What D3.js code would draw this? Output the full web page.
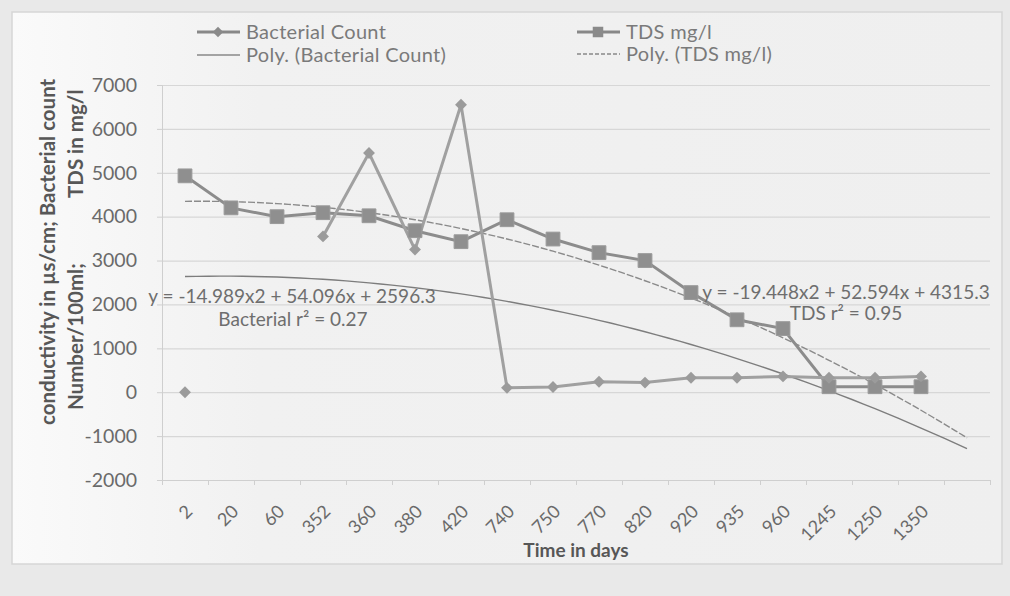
<!DOCTYPE html>
<html>
<head>
<meta charset="utf-8">
<script src="https://cdn.jsdelivr.net/npm/d3@7"></script>
<style>
  html, body { margin: 0; padding: 0; background: #e8e8e8; }
  svg { display: block; }
  text { font-family: Lato, "Open Sans", sans-serif; }
</style>
</head>
<body>
<svg id="chart" width="1010" height="596"></svg>
<script>
// Sampling days (category axis)
const days = ["2", "20", "60", "352", "360", "380", "420", "740", "750", "770",
              "820", "920", "935", "960", "1245", "1250", "1350"];
// Bacterial count, Number/100ml (no reading at day 20 and 60)
const bacterialCount = [0, null, null, 3550, 5450, 3250, 6550, 100, 120, 240,
                        220, 330, 330, 360, 330, 330, 360];
// Total dissolved solids, mg/l
const tdsMgL = [4930, 4200, 4000, 4090, 4020, 3680, 3430, 3930, 3490, 3180,
                3000, 2270, 1650, 1450, 125, 125, 125];
// 2nd-order polynomial trend coefficients [a, b, c] for y = a x^2 + b x + c
const bacterialPoly = [-14.989, 54.096, 2596.3];
const tdsPoly = [-19.448, 52.594, 4315.3];
const bacterialR2 = "0.27";
const tdsR2 = "0.95";
// Value axis ticks
const yTicks = [-2000, -1000, 0, 1000, 2000, 3000, 4000, 5000, 6000, 7000];

const svg = d3.select("#chart");
const W = 1010, H = 596;
const plot = { left: 162, right: 990, top: 85, bottom: 480 };
const forecastSlots = 1;           // trend lines run one period past the data
const nSlots = days.length + forecastSlots;

// soft page / chart area
const bg = svg.append("defs").append("linearGradient").attr("id", "paper")
  .attr("x1", 0).attr("x2", 1).attr("y1", 0).attr("y2", 0);
bg.append("stop").attr("offset", 0).attr("stop-color", "#fafafa");
bg.append("stop").attr("offset", 0.25).attr("stop-color", "#f1f1f1");
bg.append("stop").attr("offset", 1).attr("stop-color", "#efefef");
svg.append("rect").attr("width", W).attr("height", H).attr("fill", "#e9e9e9");
svg.append("rect").attr("x", 12).attr("y", 12).attr("width", 990).attr("height", 552)
  .attr("fill", "url(#paper)").attr("stroke", "#d6d6d6").attr("stroke-width", 1.5);

const x = d3.scaleBand().domain(d3.range(nSlots)).range([plot.left, plot.right]);
const cx = i => x(i) + x.bandwidth() / 2;
const xIdx = d3.scaleLinear().domain([1, nSlots]).range([cx(0), cx(nSlots - 1)]);
const y = d3.scaleLinear().domain([-2000, 7000]).range([plot.bottom, plot.top]);

// horizontal gridlines
svg.append("g")
  .attr("transform", `translate(${plot.left},0)`)
  .call(d3.axisLeft(y).tickValues(yTicks).tickSize(-(plot.right - plot.left)).tickFormat(""))
  .call(g => g.select(".domain").remove())
  .call(g => g.selectAll("line").attr("stroke", "#d7d7d7").attr("stroke-width", 1.2));

// y axis
svg.append("g")
  .attr("transform", `translate(${plot.left},0)`)
  .call(d3.axisLeft(y).tickValues(yTicks).tickSize(5).tickPadding(20).tickFormat(d => String(d)))
  .call(g => g.select(".domain").attr("stroke", "#cfcfcf"))
  .call(g => g.selectAll("line").attr("stroke", "#cfcfcf"))
  .call(g => g.selectAll("text").attr("fill", "#6a6a6a").style("font-size", "19.5px"));

// x axis line with tick marks between categories
const xEdges = d3.scaleLinear().domain([0, nSlots]).range([plot.left, plot.right]);
svg.append("g")
  .attr("transform", `translate(0,${plot.bottom})`)
  .call(d3.axisBottom(xEdges).ticks(nSlots).tickSize(5).tickFormat(""))
  .call(g => g.select(".domain").attr("stroke", "#cfcfcf"))
  .call(g => g.selectAll("line").attr("stroke", "#cfcfcf"));

// rotated category labels
svg.append("g")
  .attr("transform", `translate(0,${plot.bottom})`)
  .call(d3.axisBottom(x).tickSize(0).tickFormat(i => days[i] ?? ""))
  .call(g => g.select(".domain").remove())
  .call(g => g.selectAll("text")
    .attr("fill", "#6a6a6a")
    .style("font-size", "18px")
    .attr("text-anchor", "end")
    .attr("dy", "0.35em")
    .attr("transform", "translate(2,26) rotate(-45)"));

// axis titles
const title = svg.append("g").attr("fill", "#575757").attr("font-weight", "bold").style("font-size", "20.5px");
title.append("text").attr("transform", "translate(47,425) rotate(-90)")
  .attr("dominant-baseline", "central").text("conductivity in µs/cm;  Bacterial count");
title.append("text").attr("transform", "translate(75,410) rotate(-90)")
  .attr("dominant-baseline", "central").text("Number/100ml;");
title.append("text").attr("transform", "translate(75,198) rotate(-90)")
  .attr("dominant-baseline", "central").text("TDS in mg/l");
title.append("text").attr("x", (plot.left + plot.right) / 2).attr("y", 557)
  .attr("text-anchor", "middle").style("font-size", "19px").text("Time in days");

// polynomial trend lines
const poly = c => t => c[0] * t * t + c[1] * t + c[2];
const trendT = d3.range(1, nSlots + 0.001, 0.25);
const trendLine = f => d3.line().x(t => xIdx(t)).y(t => y(f(t)))(trendT);
svg.append("path").attr("d", trendLine(poly(bacterialPoly)))
  .attr("fill", "none").attr("stroke", "#7d7d7d").attr("stroke-width", 1.4);
svg.append("path").attr("d", trendLine(poly(tdsPoly)))
  .attr("fill", "none").attr("stroke", "#8a8a8a").attr("stroke-width", 1.4)
  .attr("stroke-dasharray", "7,2");

// data series
const seriesLine = d3.line().defined(d => d != null).x((d, i) => cx(i)).y(d => y(d));
svg.append("path").attr("d", seriesLine(tdsMgL))
  .attr("fill", "none").attr("stroke", "#8c8c8c").attr("stroke-width", 3);
svg.append("path").attr("d", seriesLine(bacterialCount))
  .attr("fill", "none").attr("stroke", "#a0a0a0").attr("stroke-width", 3);

const diamond = d3.symbol().type(d3.symbolDiamond2).size(90);
const square = d3.symbol().type(d3.symbolSquare).size(190);

svg.append("g").selectAll("path")
  .data(tdsMgL.map((v, i) => ({ v, i })))
  .join("path")
  .attr("d", square)
  .attr("transform", d => `translate(${cx(d.i)},${y(d.v)})`)
  .attr("fill", "#8f8f8f").attr("stroke", "#9a9a9a");

svg.append("g").selectAll("path")
  .data(bacterialCount.map((v, i) => ({ v, i })).filter(d => d.v != null))
  .join("path")
  .attr("d", diamond)
  .attr("transform", d => `translate(${cx(d.i)},${y(d.v)})`)
  .attr("fill", "#9b9b9b");

// trend equations
const eq = svg.append("g").attr("fill", "#6e6e6e").attr("text-anchor", "middle").style("font-size", "19px");
const fmtEq = c => `y = ${c[0]}x2 + ${c[1]}x + ${c[2]}`;
eq.append("text").attr("x", 292).attr("y", 303).text(fmtEq(bacterialPoly));
eq.append("text").attr("x", 293).attr("y", 326).text(`Bacterial r² = ${bacterialR2}`);
eq.append("text").attr("x", 846).attr("y", 299).text(fmtEq(tdsPoly));
eq.append("text").attr("x", 846).attr("y", 320).text(`TDS  r² = ${tdsR2}`);

// legend
const leg = svg.append("g").style("font-size", "20px").attr("fill", "#7a7a7a");
const legendItems = [
  { label: "Bacterial Count", x: 197, y: 32, marker: "diamond", dash: null, w: 3 },
  { label: "Poly. (Bacterial Count)", x: 197, y: 55, marker: null, dash: null, w: 1.6 },
  { label: "TDS mg/l", x: 577, y: 32, marker: "square", dash: null, w: 3 },
  { label: "Poly. (TDS mg/l)", x: 577, y: 54, marker: null, dash: "4,2", w: 1.4 }
];
const legendMarker = {
  diamond: d3.symbol().type(d3.symbolDiamond2).size(70),
  square: d3.symbol().type(d3.symbolSquare).size(110)
};
legendItems.forEach(it => {
  const g = leg.append("g").attr("transform", `translate(${it.x},${it.y})`);
  g.append("line").attr("x1", 0).attr("x2", 43)
    .attr("stroke", "#888").attr("stroke-width", it.w)
    .attr("stroke-dasharray", it.dash);
  if (it.marker) {
    g.append("path").attr("d", legendMarker[it.marker]())
      .attr("transform", "translate(21,0)").attr("fill", "#8a8a8a");
  }
  g.append("text").attr("x", 49).attr("dy", "0.35em").attr("letter-spacing", "0.3").text(it.label);
});
</script>
</body>
</html>
